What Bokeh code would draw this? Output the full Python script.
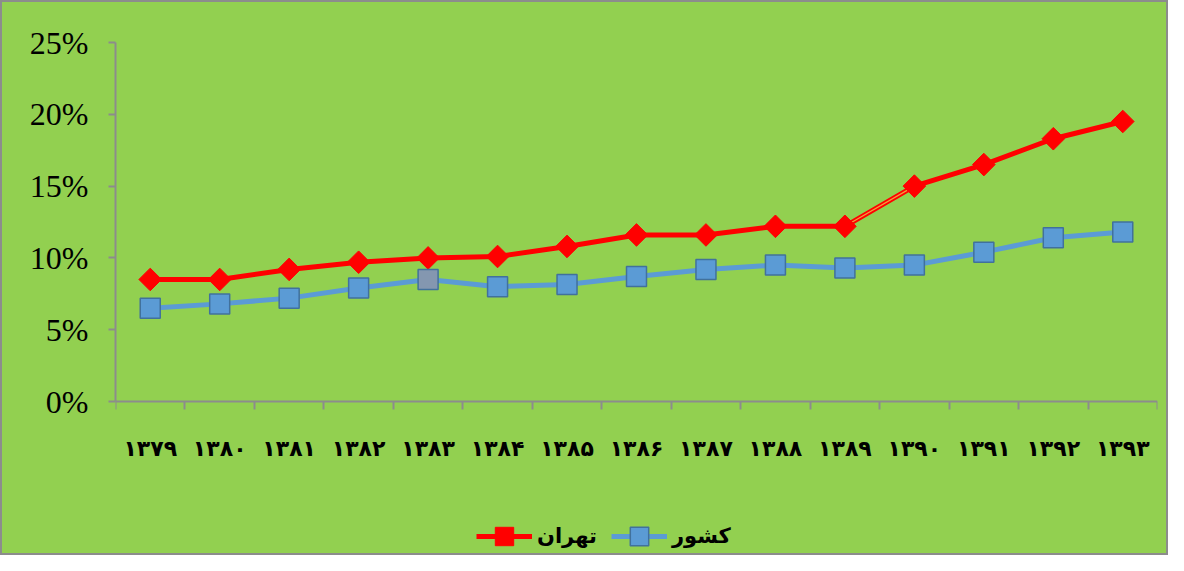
import numpy as np
from bokeh.plotting import figure
from bokeh.models import (FixedTicker, PrintfTickFormatter, Range1d, Legend, LegendItem,
                          ColumnDataSource)
from bokeh.embed import file_html
from bokeh.resources import INLINE

years = ["۱۳۷۹", "۱۳۸۰", "۱۳۸۱", "۱۳۸۲", "۱۳۸۳", "۱۳۸۴", "۱۳۸۵", "۱۳۸۶",
         "۱۳۸۷", "۱۳۸۸", "۱۳۸۹", "۱۳۹۰", "۱۳۹۱", "۱۳۹۲", "۱۳۹۳"]
tehran = [8.5, 8.5, 9.2, 9.7, 10.0, 10.1, 10.8, 11.6, 11.6, 12.2, 12.2, 15.0, 16.5, 18.3, 19.5]
keshvar = [6.5, 6.8, 7.2, 7.9, 8.5, 8.0, 8.15, 8.7, 9.2, 9.5, 9.3, 9.5, 10.4, 11.4, 11.8]
series_names = ["تهران", "کشور"]
y_ticks = [0, 5, 10, 15, 20, 25]

GREEN = "#92D050"
AXIS = "#8C8C8C"
n = len(years)
xs = list(range(n))

# frame extends below the 0% line so the legend can sit inside it;
# the x axis is pinned at y = 0
Y_BOTTOM = -10.86

p = figure(width=1168, height=555, output_backend="svg", toolbar_location=None,
           x_range=Range1d(-0.5, n - 0.5), y_range=Range1d(Y_BOTTOM, 25),
           min_border_left=113, min_border_right=13, min_border_top=40,
           min_border_bottom=0,
           background_fill_color=None, border_fill_color=GREEN,
           styles={"border": "2px solid #8c8c8c", "box-sizing": "border-box",
                   "background-color": GREEN})
p.outline_line_color = None
p.xgrid.visible = False
p.ygrid.visible = False

# x axis: labels at category centres, ticks at category boundaries
p.xaxis.fixed_location = 0
p.xaxis.ticker = FixedTicker(ticks=xs, minor_ticks=[i - 0.5 for i in range(n + 1)])
p.xaxis.major_label_overrides = {i: years[i] for i in xs}
p.xaxis.major_tick_out = 0
p.xaxis.major_tick_in = 0
p.xaxis.minor_tick_out = 8
p.xaxis.minor_tick_in = 0
p.xaxis.minor_tick_line_color = AXIS
p.xaxis.minor_tick_line_width = 2
p.xaxis.axis_line_color = AXIS
p.xaxis.axis_line_width = 2
p.xaxis.major_label_standoff = 26
p.xaxis.major_label_text_font = "DejaVu Sans"
p.xaxis.major_label_text_font_style = "bold"
p.xaxis.major_label_text_font_size = "22px"
p.xaxis.major_label_text_color = "black"

p.yaxis.ticker = FixedTicker(ticks=y_ticks)
p.yaxis.bounds = (0, 25)
p.yaxis.formatter = PrintfTickFormatter(format="%d%%")
p.yaxis.major_tick_out = 7
p.yaxis.major_tick_in = 0
p.yaxis.minor_tick_out = 0
p.yaxis.minor_tick_in = 0
p.yaxis.major_tick_line_color = AXIS
p.yaxis.major_tick_line_width = 2
p.yaxis.axis_line_color = AXIS
p.yaxis.axis_line_width = 2
p.yaxis.major_label_standoff = 20
p.yaxis.major_label_text_font = "Liberation Serif"
p.yaxis.major_label_text_font_size = "32px"
p.yaxis.major_label_text_color = "black"

# series
blue_fill = ["#5B9BD5"] * n
blue_fill[4] = "#8497B0"

r_line = p.line(xs, tehran, line_color="#FF0000", line_width=5)
# double-stroke styled segment between the 11th and 12th points
p.line(xs[10:12], tehran[10:12], line_color="#F2A03C", line_width=1.2)
r_mark = p.scatter(xs, tehran, marker="square", angle=np.pi / 4, size=16,
                   fill_color="#FF0000", line_color="#FF0000")

b_line = p.line(xs, keshvar, line_color="#5B9BD5", line_width=5)
b_src = ColumnDataSource(dict(x=xs, y=keshvar, fill=blue_fill))
b_mark = p.scatter("x", "y", source=b_src, marker="square", size=20,
                   fill_color="fill", line_color="#41719C", line_width=1.5)

legend = Legend(items=[LegendItem(label=series_names[0], renderers=[r_line, r_mark]),
                       LegendItem(label=series_names[1], renderers=[b_line, b_mark])],
                orientation="horizontal", location=(361, -2), margin=0,
                padding=0,
                background_fill_alpha=0, border_line_color=None,
                glyph_width=56, glyph_height=46, label_standoff=5, spacing=14,
                label_text_font="DejaVu Sans", label_text_font_style="bold",
                label_text_font_size="21px", label_text_color="black")
p.add_layout(legend, "center")

open("out.html", "w").write(file_html(p, INLINE))
